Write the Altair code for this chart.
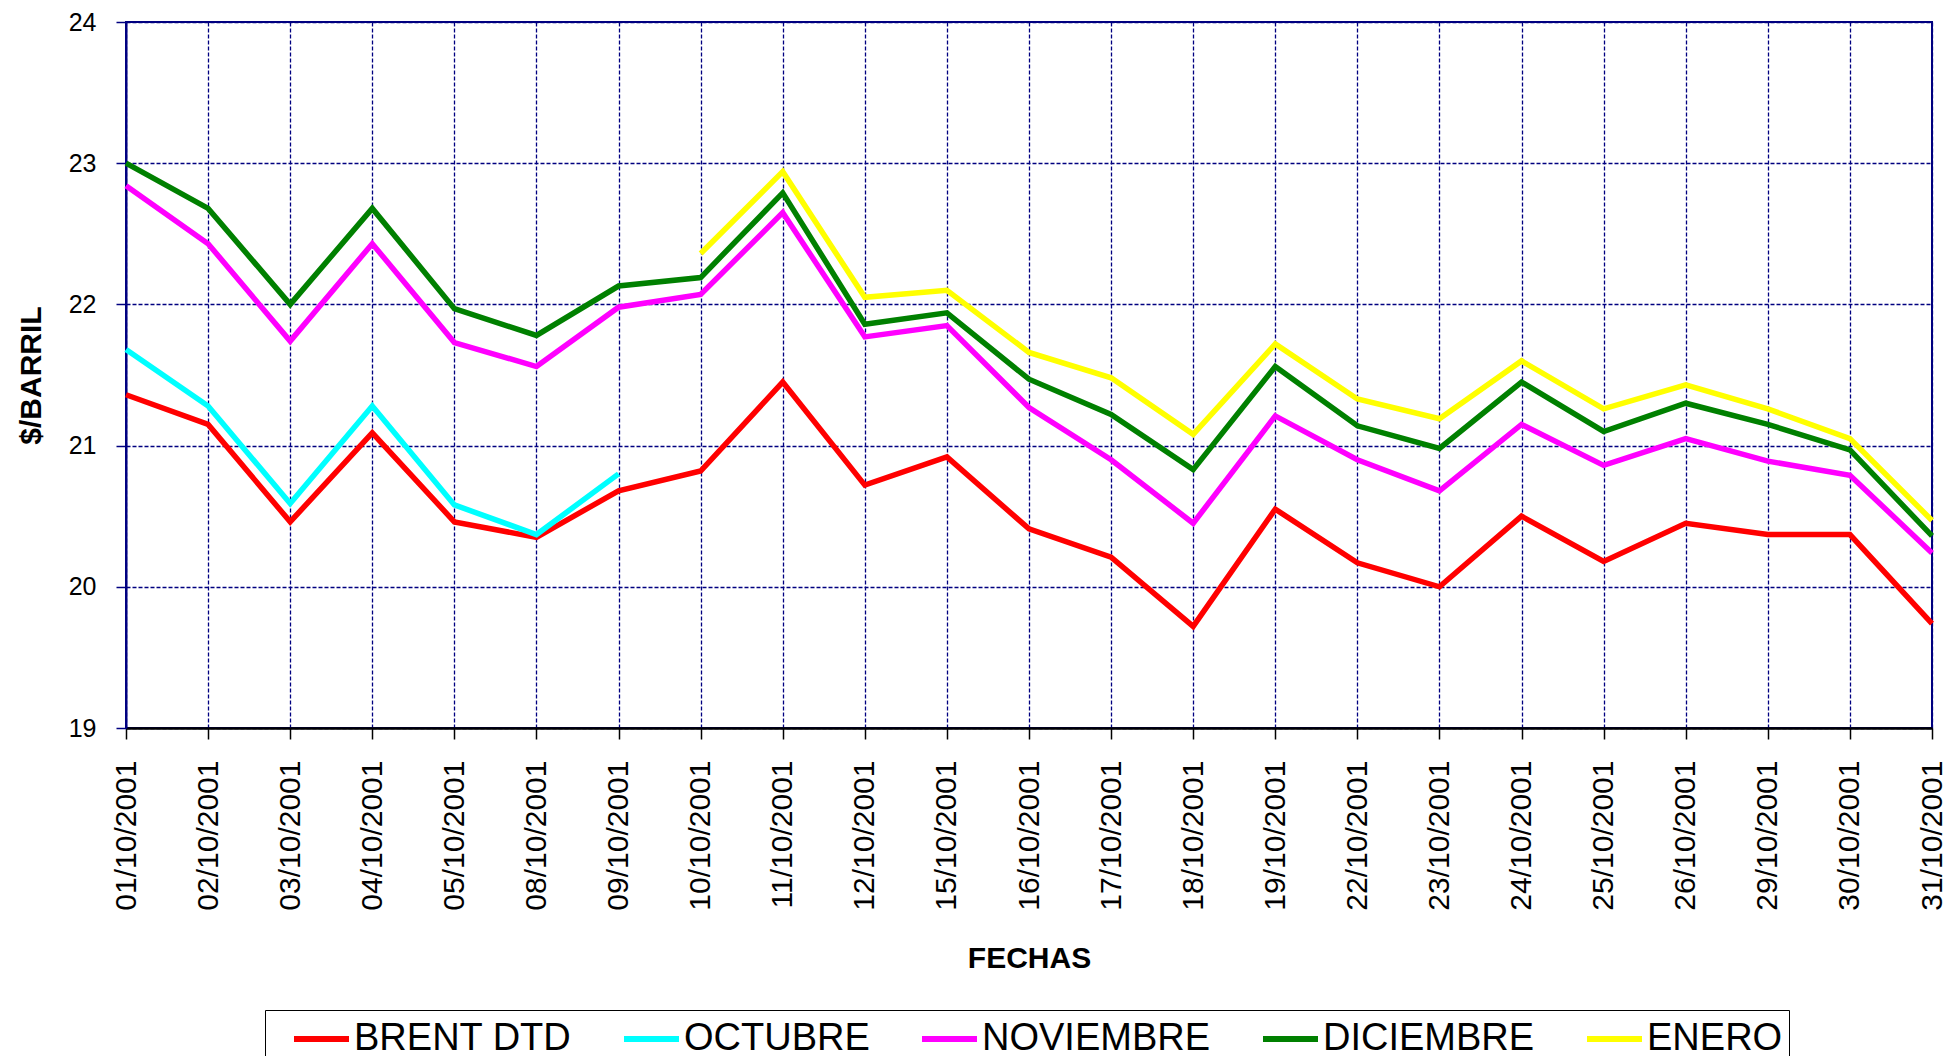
import altair as alt
import pandas as pd

dates = ["01/10/2001", "02/10/2001", "03/10/2001", "04/10/2001", "05/10/2001",
         "08/10/2001", "09/10/2001", "10/10/2001", "11/10/2001", "12/10/2001",
         "15/10/2001", "16/10/2001", "17/10/2001", "18/10/2001", "19/10/2001",
         "22/10/2001", "23/10/2001", "24/10/2001", "25/10/2001", "26/10/2001",
         "29/10/2001", "30/10/2001", "31/10/2001"]

brent = [21.36, 21.15, 20.46, 21.09, 20.46, 20.35, 20.68, 20.82, 21.45, 20.72,
         20.92, 20.41, 20.21, 19.72, 20.55, 20.17, 20.00, 20.50, 20.18, 20.45,
         20.37, 20.37, 19.74]
octubre = [21.68, 21.28, 20.59, 21.28, 20.58, 20.37, 20.80]
noviembre = [22.84, 22.43, 21.74, 22.43, 21.73, 21.56, 21.98, 22.07, 22.65, 21.77,
             21.85, 21.27, 20.90, 20.45, 21.21, 20.90, 20.68, 21.15, 20.86, 21.05,
             20.89, 20.79, 20.24]
diciembre = [23.00, 22.68, 22.00, 22.68, 21.97, 21.78, 22.13, 22.19, 22.79, 21.86,
             21.94, 21.47, 21.22, 20.83, 21.56, 21.14, 20.98, 21.45, 21.10, 21.30,
             21.15, 20.97, 20.36]
enero = [22.36, 22.94, 22.05, 22.10, 21.66, 21.48, 21.08, 21.72, 21.33, 21.19,
         21.60, 21.26, 21.43, 21.26, 21.05, 20.47]

series_names = ["BRENT DTD", "OCTUBRE", "NOVIEMBRE", "DICIEMBRE", "ENERO"]
series_colors = ["#FF0000", "#00FFFF", "#FF00FF", "#008000", "#FFFF00"]
y_ticks = [19, 20, 21, 22, 23, 24]

rows = []
for d, v in zip(dates, brent):
    rows.append({"fecha": d, "valor": v, "serie": "BRENT DTD", "k": 0})
for d, v in zip(dates[:len(octubre)], octubre):
    rows.append({"fecha": d, "valor": v, "serie": "OCTUBRE", "k": 1})
for d, v in zip(dates, noviembre):
    rows.append({"fecha": d, "valor": v, "serie": "NOVIEMBRE", "k": 2})
for d, v in zip(dates, diciembre):
    rows.append({"fecha": d, "valor": v, "serie": "DICIEMBRE", "k": 3})
for d, v in zip(dates[len(dates) - len(enero):], enero):
    rows.append({"fecha": d, "valor": v, "serie": "ENERO", "k": 4})
df = pd.DataFrame(rows)

FONT = "Liberation Sans"

chart = alt.Chart(df).mark_line(strokeWidth=5.5, strokeJoin="miter").encode(
    x=alt.X("fecha:N", sort=dates,
            scale=alt.Scale(type="point", padding=0),
            axis=alt.Axis(title="FECHAS", labelAngle=-90, labelFontSize=30,
                          labelPadding=21, tickSize=11, tickColor="black",
                          tickWidth=1.5, domainColor="black", domainWidth=2.5,
                          titleFontSize=30, titleFontWeight="bold",
                          titlePadding=33, grid=True)),
    y=alt.Y("valor:Q", scale=alt.Scale(domain=[19, 24], nice=False, zero=False),
            axis=alt.Axis(title="$/BARRIL", values=y_ticks, labelFontSize=25,
                          labelPadding=20, tickSize=10, tickColor="#000080",
                          tickWidth=1.5, domainColor="#000080", domainWidth=2,
                          titleFontSize=30, titleFontWeight="bold",
                          titlePadding=22, grid=True)),
    color=alt.Color("serie:N",
                    scale=alt.Scale(domain=series_names, range=series_colors),
                    legend=alt.Legend(title=None, orient="none", legendX=139,
                                      legendY=988, direction="horizontal",
                                      strokeColor="black", padding=6,
                                      symbolType="M0,0H2.75", symbolSize=1600,
                                      symbolStrokeWidth=6, labelFontSize=38,
                                      labelFont=FONT, labelOffset=37,
                                      labelLimit=500, columnPadding=29)),
    order=alt.Order("k:Q"),
).properties(
    width=1806,
    height=706,
    autosize=alt.AutoSizeParams(type="none"),
    padding={"left": 118, "top": 14, "right": 16, "bottom": 328},
).configure_view(
    stroke="#000080", strokeWidth=2
).configure_axis(
    gridColor="#000080", gridDash=[4, 2], gridWidth=1.3, gridOpacity=1,
    labelFont=FONT, titleFont=FONT, labelColor="black", titleColor="black"
)

chart.save("out.html", embed_options={"renderer": "svg", "actions": False})
